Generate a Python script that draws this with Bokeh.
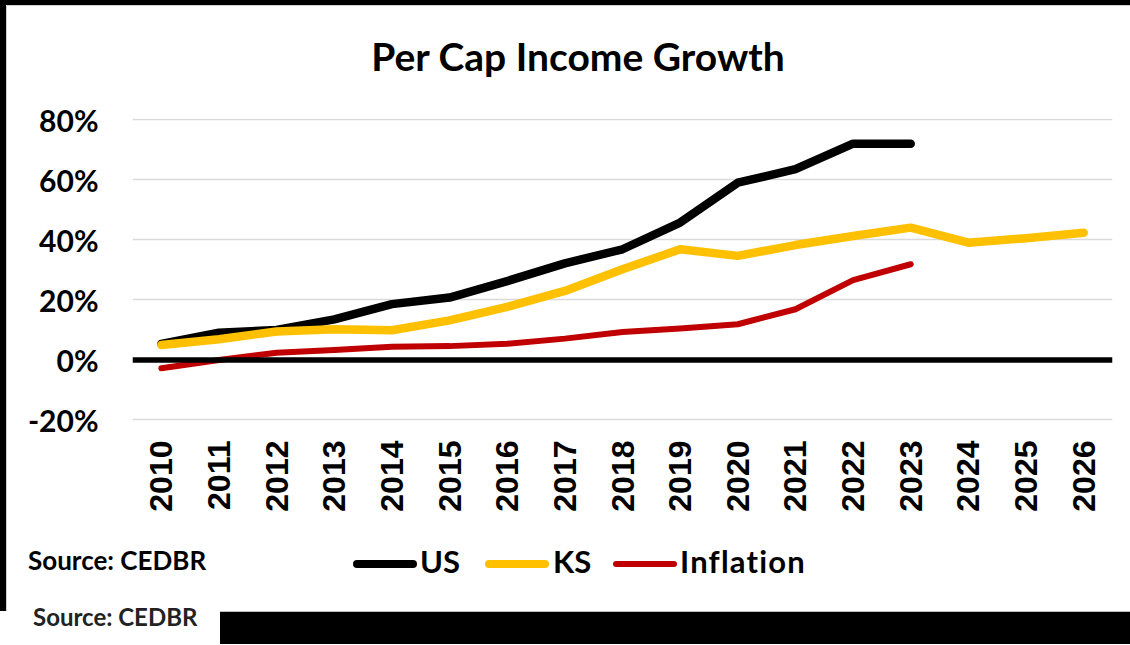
import math
from bokeh.plotting import figure
from bokeh.models import (Span, FixedTicker, Div, PrintfTickFormatter, FactorRange, Range1d)
from bokeh.layouts import column, row
from bokeh.embed import file_html
from bokeh.resources import INLINE

# ---- data (percent growth since base) ----
years = ["2010", "2011", "2012", "2013", "2014", "2015", "2016", "2017", "2018",
         "2019", "2020", "2021", "2022", "2023", "2024", "2025", "2026"]
us_years = years[:14]
us = [5.3, 9.1, 10.0, 13.5, 18.6, 20.8, 26.3, 32.2, 36.9, 45.8, 59.1, 63.6, 72.1, 72.1]
ks = [5.0, 6.9, 9.5, 10.2, 9.9, 13.2, 17.7, 23.0, 30.2, 36.9, 34.7, 38.3, 41.3, 44.1,
      39.1, 40.6, 42.4]
infl_years = years[:14]
inflation = [-2.8, 0.0, 2.4, 3.3, 4.4, 4.6, 5.4, 7.1, 9.3, 10.5, 11.9, 16.9, 26.6, 31.9]
y_ticks = [-20, 0, 20, 40, 60, 80]
series_names = ["US", "KS", "Inflation"]
series_colors = ["#000000", "#ffc000", "#c00000"]
series_widths = [8.5, 8.5, 6]
title_text = "Per Cap Income Growth"
source_text = "Source: CEDBR"

FONT = "Lato"

# ---------------- main chart ----------------
p = figure(width=1123, height=420,
           x_range=FactorRange(*years, range_padding=0),
           y_range=Range1d(-20.2, 80.5),
           output_backend="svg", toolbar_location=None,
           min_border_left=125, min_border_right=18,
           min_border_top=18, min_border_bottom=100)
p.outline_line_color = None
p.background_fill_color = "white"
p.border_fill_color = "white"

p.xgrid.grid_line_color = None
p.ygrid.ticker = FixedTicker(ticks=y_ticks)
p.ygrid.grid_line_color = "#d9d9d9"
p.ygrid.grid_line_width = 1.6

p.yaxis.ticker = FixedTicker(ticks=y_ticks)
p.yaxis.formatter = PrintfTickFormatter(format="%d%%")
p.yaxis.axis_line_color = None
p.yaxis.major_tick_line_color = None
p.yaxis.minor_tick_line_color = None
p.yaxis.major_label_standoff = 28
p.yaxis.major_label_text_font = FONT
p.yaxis.major_label_text_font_style = "bold"
p.yaxis.major_label_text_font_size = "30px"
p.yaxis.major_label_text_color = "black"

p.xaxis.axis_line_color = None
p.xaxis.major_tick_line_color = None
p.xaxis.minor_tick_line_color = None
p.xaxis.major_label_orientation = math.pi / 2
p.xaxis.major_label_standoff = 14
p.xaxis.major_label_text_font = "Liberation Sans"
p.xaxis.major_label_text_font_style = "bold"
p.xaxis.major_label_text_font_size = "32px"
p.xaxis.major_label_text_color = "black"

p.add_layout(Span(location=0, dimension="width", line_color="black", line_width=5.5))

series = [(us_years, us), (years, ks), (infl_years, inflation)]
for (xs, ys), c, w in zip(series, series_colors, series_widths):
    p.line(xs, ys, line_color=c, line_width=w, line_cap="round", line_join="round")

# ---------------- legend / notes / frame decorations (HTML) ----------------
TXT = "position:absolute;font-family:Lato;font-weight:bold;line-height:1.2;white-space:nowrap;"

def box(left, top, width, height, color, radius=0):
    return ('<div style="position:absolute;left:%spx;top:%spx;width:%spx;height:%spx;'
            'background:%s;border-radius:%spx"></div>' % (left, top, width, height, color, radius))

top_html = (
    '<div style="position:relative;width:1130px;height:100px;background:white;overflow:hidden">'
    + box(0, 0, 1130, 5, "black") + box(7, 5, 1123, 1, "#d0d0d0")
    + box(0, 0, 6, 100, "black") + box(6, 6, 1, 94, "#d0d0d0")
    + '<div style="' + TXT + 'left:0;top:33px;width:1156px;text-align:center;'
    'font-size:39px;color:black">' + title_text + '</div>'
    '</div>')

left_html = ('<div style="position:relative;width:7px;height:420px;background:white">'
             + box(0, 0, 6, 420, "black") + box(6, 0, 1, 420, "#d0d0d0") + '</div>')

# legend entries: swatch left, swatch width, label left
legend_swatch_left = [353, 485, 613]
legend_label_left = [420, 553, 680]
legend_html = ""
for name, c, w, sl, ll in zip(series_names, series_colors, series_widths,
                              legend_swatch_left, legend_label_left):
    h = int(round(w))
    legend_html += box(sl, 44 - h // 2, 64, h, c, h // 2)
    extra = "letter-spacing:1.2px;" if name == "Inflation" else ""
    legend_html += ('<div style="' + TXT + 'left:%dpx;top:23px;font-size:31px;color:black;%s">'
                    % (ll, extra) + name + '</div>')

bottom_html = (
    '<div style="position:relative;width:1130px;height:124px;background:white;overflow:hidden">'
    + box(0, 0, 6, 91, "black") + box(6, 0, 1, 91, "#d0d0d0")
    + box(220, 91, 910, 1, "#bfbfbf") + box(220, 92, 910, 33, "black")
    + '<div style="' + TXT + 'left:28px;top:25px;font-size:26px;color:black">'
    + source_text + '</div>'
    + legend_html
    + '<div style="' + TXT + 'left:33px;top:83px;font-size:24px;color:#222222">'
    + source_text + '</div>'
    '</div>')

top_div = Div(text=top_html, width=1130, height=100, margin=0)
left_div = Div(text=left_html, width=7, height=420, margin=0)
bottom_div = Div(text=bottom_html, width=1130, height=124, margin=0)

layout = column(top_div, row(left_div, p, spacing=0), bottom_div, spacing=0)

open("out.html", "w").write(file_html(layout, INLINE))
